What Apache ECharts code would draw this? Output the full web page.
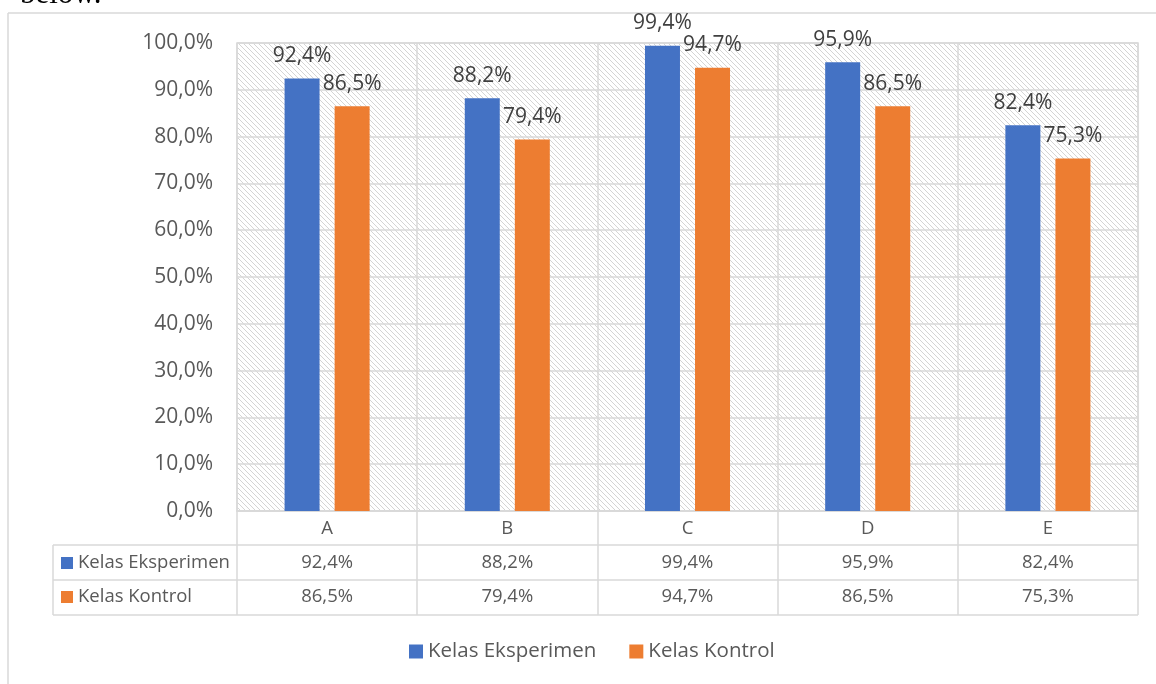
<!DOCTYPE html>
<html>
<head>
<meta charset="utf-8">
<script src="https://cdn.jsdelivr.net/npm/echarts@6/dist/echarts.min.js"></script>
<style>
  html, body { margin: 0; padding: 0; background: #fff; }
  #chart { width: 1156px; height: 684px; }
</style>
</head>
<body>
<div id="chart"></div>
<script>
// data
var categories = ['A', 'B', 'C', 'D', 'E'];
var eksperimen = [92.4, 88.2, 99.4, 95.9, 82.4];
var kontrol = [86.5, 79.4, 94.7, 86.5, 75.3];
var seriesNames = ['Kelas Eksperimen', 'Kelas Kontrol'];
var yTicks = [0, 10, 20, 30, 40, 50, 60, 70, 80, 90, 100];

var BLUE = '#4472C4', ORANGE = '#ED7D31', TEXT = '#595959', LINE = '#d9d9d9';
var FONT = '"Open Sans", "Noto Sans", sans-serif';

// 12,3 -> "12,3%"
function pct(v) {
    return v.toFixed(1).replace('.', ',') + '%';
}

// hatch tile for the plot area
function hatchTile() {
    var s = 5;
    var c = document.createElement('canvas');
    c.width = s; c.height = s;
    var ctx = c.getContext('2d');
    ctx.fillStyle = '#fff';
    ctx.fillRect(0, 0, s, s);
    ctx.strokeStyle = '#d4d4d4';
    ctx.lineWidth = 1;
    ctx.beginPath();
    ctx.moveTo(-1, -1); ctx.lineTo(s + 1, s + 1);
    ctx.moveTo(-1, s - 1); ctx.lineTo(1, s + 1);
    ctx.moveTo(s - 1, -1); ctx.lineTo(s + 1, 1);
    ctx.stroke();
    return c;
}

var myChart = echarts.init(document.getElementById('chart'));

// table rows under the plot
function rowAxis(values, offset) {
    return {
        type: 'category',
        position: 'bottom',
        offset: offset,
        data: values.map(pct),
        axisLine: { show: false },
        axisTick: { show: false },
        axisLabel: { margin: 18, verticalAlign: 'middle', fontSize: 18.5, color: TEXT, fontFamily: FONT }
    };
}

var tableLines = [];
[545, 580, 615].forEach(function (y) {
    tableLines.push({ type: 'line', shape: { x1: 53, y1: y, x2: 1138, y2: y }, style: { stroke: LINE, lineWidth: 1.5 } });
});
tableLines.push({ type: 'line', shape: { x1: 53, y1: 545, x2: 53, y2: 615 }, style: { stroke: LINE, lineWidth: 1.5 } });

option = {
    backgroundColor: '#fff',
    animation: false,
    textStyle: { fontFamily: FONT },
    grid: {
        left: 237,
        right: 18,
        top: 43,
        bottom: 173,
        show: true,
        borderColor: LINE,
        borderWidth: 1.5,
        backgroundColor: { image: hatchTile(), repeat: 'repeat' }
    },
    legend: {
        left: 409,
        top: 641,
        padding: 0,
        itemWidth: 14,
        itemHeight: 14,
        itemGap: 33,
        icon: 'rect',
        textStyle: { fontSize: 20.5, color: TEXT, fontFamily: FONT },
        data: seriesNames
    },
    xAxis: [
        {
            type: 'category',
            data: categories,
            axisLine: { lineStyle: { color: LINE, width: 1.5 } },
            axisTick: { show: true, length: 104, lineStyle: { color: LINE, width: 1.5 } },
            axisLabel: { margin: 18, verticalAlign: 'middle', fontSize: 18.5, color: TEXT, fontFamily: FONT },
            splitLine: { show: true, lineStyle: { color: LINE, width: 1.5 } }
        },
        rowAxis(eksperimen, 34),
        rowAxis(kontrol, 68)
    ],
    yAxis: {
        type: 'value',
        min: yTicks[0],
        max: yTicks[yTicks.length - 1],
        interval: yTicks[1] - yTicks[0],
        axisLine: { show: false },
        axisTick: { show: false },
        axisLabel: { margin: 24, fontSize: 21, color: TEXT, fontFamily: FONT, formatter: pct },
        splitLine: { lineStyle: { color: LINE, width: 1.5 } }
    },
    series: [
        {
            name: seriesNames[0],
            type: 'bar',
            data: eksperimen,
            barWidth: 35,
            barGap: '43%',
            itemStyle: { color: BLUE },
            label: {
                show: true, position: 'top', distance: 12,
                fontSize: 21, color: '#404040', fontFamily: FONT,
                formatter: function (p) { return pct(p.value); }
            }
        },
        {
            name: seriesNames[1],
            type: 'bar',
            data: kontrol,
            barWidth: 35,
            itemStyle: { color: ORANGE },
            label: {
                show: true, position: 'top', distance: 12,
                fontSize: 21, color: '#404040', fontFamily: FONT,
                formatter: function (p) { return pct(p.value); }
            }
        }
    ],
    graphic: [
        // outer chart frame
        { type: 'line', shape: { x1: 8, y1: 13, x2: 1156, y2: 13 }, style: { stroke: LINE, lineWidth: 1.5 } },
        { type: 'line', shape: { x1: 8, y1: 13, x2: 8, y2: 684 }, style: { stroke: LINE, lineWidth: 1.5 } },
        // cut off line of the page text above the chart
        { type: 'text', left: 20, top: -21, style: { text: 'below.', font: '31px "Liberation Serif", serif', fill: '#000' } },
        // row keys of the data table
        { type: 'rect', shape: { x: 61, y: 557, width: 12, height: 12 }, style: { fill: BLUE } },
        { type: 'text', x: 78, y: 563, style: { text: seriesNames[0], font: '18.5px ' + FONT, fill: TEXT, verticalAlign: 'middle' } },
        { type: 'rect', shape: { x: 61, y: 591, width: 12, height: 12 }, style: { fill: ORANGE } },
        { type: 'text', x: 78, y: 597, style: { text: seriesNames[1], font: '18.5px ' + FONT, fill: TEXT, verticalAlign: 'middle' } }
    ].concat(tableLines)
};

myChart.setOption(option);
</script>
</body>
</html>
